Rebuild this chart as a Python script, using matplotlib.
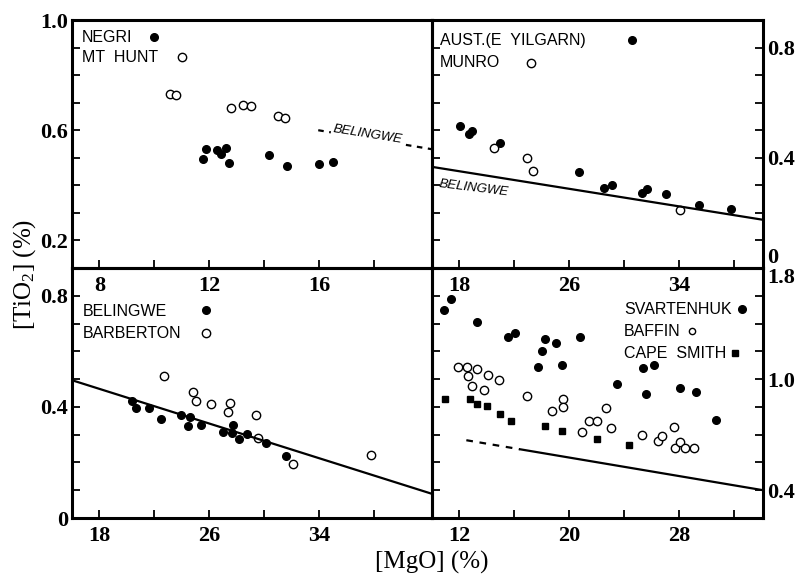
import numpy as np
import matplotlib
matplotlib.use('Agg')
import matplotlib.pyplot as plt
from matplotlib.ticker import FixedLocator, FixedFormatter, NullFormatter

# --- dane: [MgO] (%) i [TiO2] (%) ---

# panel lewy gorny: Negri (pelne), Mt Hunt (puste)
negri_mgo = [11.77, 11.87, 12.28, 12.44, 12.60, 12.72, 14.18, 14.81, 15.99, 16.51]
negri_ti = [0.497, 0.531, 0.528, 0.513, 0.534, 0.480, 0.509, 0.470, 0.478, 0.485]
mthunt_mgo = [10.55, 10.80, 12.77, 13.23, 13.51, 14.49, 14.75]
mthunt_ti = [0.733, 0.729, 0.682, 0.691, 0.687, 0.653, 0.644]
bel_tl_mgo = [15.96, 20.1]
bel_tl_ti = [0.600, 0.531]

# panel prawy gorny: Aust. (E Yilgarn) (pelne), Munro (puste)
aust_mgo = [18.02, 18.68, 18.92, 20.92, 26.67, 28.51, 29.11, 31.31, 31.67, 33.07, 35.46, 37.78]
aust_ti = [0.517, 0.486, 0.498, 0.453, 0.349, 0.290, 0.301, 0.272, 0.286, 0.268, 0.230, 0.215]
munro_mgo = [20.54, 22.95, 23.39, 34.07]
munro_ti = [0.434, 0.399, 0.353, 0.211]
bel_tr_mgo = [16.0, 40.1]
bel_tr_ti = [0.367, 0.175]

# panel lewy dolny: Belingwe (pelne), Barberton (puste)
belingwe_mgo = [20.36, 20.63, 21.60, 22.45, 23.96, 24.45, 24.59, 25.37, 26.96, 27.66,
                27.69, 28.17, 28.75, 30.12, 31.58]
belingwe_ti = [0.421, 0.397, 0.396, 0.355, 0.372, 0.331, 0.362, 0.336, 0.308, 0.305,
               0.336, 0.285, 0.303, 0.271, 0.222]
barberton_mgo = [22.67, 24.81, 25.01, 26.12, 27.32, 27.49, 29.36, 29.51, 32.07, 37.76]
barberton_ti = [0.513, 0.453, 0.420, 0.411, 0.380, 0.413, 0.372, 0.289, 0.196, 0.228]
bel_bl_mgo = [16.0, 42.2]
bel_bl_ti = [0.496, 0.087]

# panel prawy dolny: Svartenhuk (pelne), Baffin (puste), Cape Smith (kwadraty)
svart_mgo = [10.90, 11.38, 13.25, 15.55, 16.04, 17.73, 18.00, 18.22, 19.02, 19.45,
             20.81, 23.45, 25.39, 25.59, 26.17, 28.09, 29.20, 30.65]
svart_ti = [1.501, 1.578, 1.408, 1.304, 1.331, 1.089, 1.202, 1.292, 1.263, 1.103,
            1.304, 0.965, 1.081, 0.892, 1.105, 0.933, 0.907, 0.705]
baffin_mgo = [11.92, 12.52, 12.59, 13.25, 12.93, 13.81, 14.10, 14.87, 16.89, 18.77,
              19.52, 19.52, 20.93, 21.42, 21.98, 22.65, 23.02, 25.32, 26.44, 26.78,
              27.65, 27.72, 28.04, 28.40, 29.05]
baffin_ti = [1.086, 1.086, 1.025, 1.074, 0.948, 0.924, 1.033, 0.996, 0.882, 0.773,
             0.856, 0.802, 0.621, 0.701, 0.701, 0.795, 0.650, 0.601, 0.555, 0.589,
             0.657, 0.504, 0.548, 0.507, 0.504]
cape_mgo = [10.95, 12.76, 13.25, 13.98, 14.95, 15.72, 18.24, 19.45, 22.00, 24.35]
cape_ti = [0.856, 0.856, 0.822, 0.807, 0.747, 0.701, 0.662, 0.630, 0.572, 0.524]
bel_br_mgo = [12.5, 16.4, 34.05]
bel_br_ti = [0.560, 0.495, 0.201]

plt.rcParams['font.family'] = 'Liberation Serif'
plt.rcParams['mathtext.fontset'] = 'custom'
plt.rcParams['mathtext.rm'] = 'Liberation Serif'
plt.rcParams['mathtext.it'] = 'Liberation Serif:italic'

W, H = 798, 576
fig = plt.figure(figsize=(W / 100, H / 100), dpi=100)


def box(x0, y0, x1, y1):
    # prostokat w pikselach (od gory) -> wspolrzedne figury
    return [x0 / W, 1 - y1 / H, (x1 - x0) / W, (y1 - y0) / H]


ax_tl = fig.add_axes(box(72, 20, 432, 268))
ax_tr = fig.add_axes(box(432, 20, 763, 268))
ax_bl = fig.add_axes(box(72, 268, 432, 518))
ax_br = fig.add_axes(box(432, 268, 763, 518))
# przezroczyste tla, zeby etykiety osi X gornych paneli byly widoczne
for a in (ax_tl, ax_tr, ax_bl, ax_br):
    a.set_facecolor('none')

filled = dict(ls='none', marker='o', ms=5.5, mfc='black', mec='black')
hollow = dict(ls='none', marker='o', ms=6, mfc='white', mec='black', mew=1.0)
square = dict(ls='none', marker='s', ms=4.2, mfc='black', mec='black')
sans = dict(family='Liberation Sans', fontsize=11.5, fontweight='normal', va='center')


def setup(ax, xlim, ylim, xmaj, xmin, ymaj, ymin, ylabels, side):
    ax.set_xlim(xlim)
    ax.set_ylim(ylim)
    ax.xaxis.set_major_locator(FixedLocator(xmaj))
    ax.xaxis.set_minor_locator(FixedLocator(xmin))
    ax.xaxis.set_minor_formatter(NullFormatter())
    ax.yaxis.set_major_locator(FixedLocator(ymaj))
    ax.yaxis.set_major_formatter(FixedFormatter(ylabels))
    ax.yaxis.set_minor_locator(FixedLocator(ymin))
    ax.yaxis.set_minor_formatter(NullFormatter())
    for s in ax.spines.values():
        s.set_linewidth(2.2)
    ax.tick_params(which='both', direction='in', length=6, width=1.3,
                   labelsize=16, top=False)
    if side == 'left':
        ax.tick_params(which='both', left=True, right=False, labelleft=True, labelright=False, pad=3)
    else:
        ax.tick_params(which='both', left=True, right=True, labelleft=False, labelright=True, pad=3)
    ax.tick_params(axis='x', which='both', pad=6)
    for lbl in ax.get_xticklabels() + ax.get_yticklabels():
        lbl.set_fontweight('bold')


# --- lewy gorny ---
ax = ax_tl
ax.plot(negri_mgo, negri_ti, **filled)
ax.plot(mthunt_mgo, mthunt_ti, **hollow)
ax.plot(bel_tl_mgo, bel_tl_ti, color='black', lw=1.6, ls=(0, (2.5, 2.5)))
ax.text(17.75, 0.585, 'BELINGWE', family='Liberation Sans', fontsize=9.5, style='italic',
        rotation=-9, ha='center', va='center',
        bbox=dict(facecolor='white', edgecolor='none', pad=1))
setup(ax, (7.0, 20.1), (0.1, 1.0), [8, 12, 16], [10, 14, 18],
      [0.2, 0.6, 1.0], [0.3, 0.4, 0.5, 0.7, 0.8, 0.9], ['0.2', '0.6', '1.0'], 'left')
ax.text(0.028, 0.931, 'NEGRI', transform=ax.transAxes, **sans)
ax.plot([0.228], [0.931], transform=ax.transAxes, **filled)
ax.text(0.028, 0.847, 'MT  HUNT', transform=ax.transAxes, **sans)
ax.plot([0.306], [0.851], transform=ax.transAxes, **hollow)

# --- prawy gorny ---
ax = ax_tr
ax.plot(aust_mgo, aust_ti, **filled)
ax.plot(munro_mgo, munro_ti, **hollow)
ax.plot(bel_tr_mgo, bel_tr_ti, color='black', lw=1.6)
ax.text(19.0, 0.288, 'BELINGWE', family='Liberation Sans', fontsize=9.5, style='italic',
        rotation=-7, ha='center', va='center')
setup(ax, (16.0, 40.1), (0, 0.9), [18, 26, 34], [22, 30, 38],
      [0, 0.4, 0.8], [0.1, 0.2, 0.3, 0.5, 0.6, 0.7], ['0', '0.4', '0.8'], 'right')
ax.text(0.024, 0.919, 'AUST.(E  YILGARN)', transform=ax.transAxes, **sans)
ax.plot([0.604], [0.919], transform=ax.transAxes, **filled)
ax.text(0.024, 0.827, 'MUNRO', transform=ax.transAxes, **sans)
ax.plot([0.299], [0.827], transform=ax.transAxes, **hollow)

# --- lewy dolny ---
ax = ax_bl
ax.plot(belingwe_mgo, belingwe_ti, **filled)
ax.plot(barberton_mgo, barberton_ti, **hollow)
ax.plot(bel_bl_mgo, bel_bl_ti, color='black', lw=1.6)
setup(ax, (16.0, 42.2), (0, 0.9), [18, 26, 34], [22, 30, 38],
      [0, 0.4, 0.8], [0.1, 0.2, 0.3, 0.5, 0.6, 0.7], ['0', '0.4', '0.8'], 'left')
ax.text(0.031, 0.824, 'BELINGWE', transform=ax.transAxes, **sans)
ax.plot([0.372], [0.832], transform=ax.transAxes, **filled)
ax.text(0.031, 0.740, 'BARBERTON', transform=ax.transAxes, **sans)
ax.plot([0.372], [0.740], transform=ax.transAxes, **hollow)

# --- prawy dolny ---
ax = ax_br
ax.plot(svart_mgo, svart_ti, **filled)
ax.plot(baffin_mgo, baffin_ti, **hollow)
ax.plot(cape_mgo, cape_ti, **square)
ax.plot(bel_br_mgo[:2], bel_br_ti[:2], color='black', lw=1.6, ls=(0, (3, 3)))
ax.plot(bel_br_mgo[1:], bel_br_ti[1:], color='black', lw=1.6)
# etykieta "0.4" przy najnizszej kresce jak na oryginale
setup(ax, (10.0, 34.1), (0, 1.8), [12, 20, 28], [16, 24, 32],
      [0.2, 1.0, 1.8], [0.4, 0.6, 0.8, 1.2, 1.4, 1.6], ['0.4', '1.0', '1.8'], 'right')
ax.text(0.580, 0.832, 'SVARTENHUK', transform=ax.transAxes, **sans)
ax.plot([0.937], [0.836], transform=ax.transAxes, **filled)
ax.text(0.580, 0.748, 'BAFFIN', transform=ax.transAxes, **sans)
ax.plot([0.785], [0.748], transform=ax.transAxes, ls='none', marker='o', ms=4.5,
        mfc='white', mec='black', mew=1.0)
ax.text(0.580, 0.660, 'CAPE  SMITH', transform=ax.transAxes, **sans)
ax.plot([0.915], [0.660], transform=ax.transAxes, **square)

# "0" i "1.8" na styku paneli prawych
ax_tr.yaxis.get_major_ticks()[0].label2.set_va('bottom')
ax_br.yaxis.get_major_ticks()[2].label2.set_va('top')

fig.text(25 / W, 1 - 274 / H, '[TiO$_2$] (%)', rotation=90, ha='center', va='center',
         fontsize=18)
fig.text(432 / W, 1 - 562 / H, '[MgO] (%)', ha='center', va='center', fontsize=18)

fig.savefig('out.png', dpi=100)
